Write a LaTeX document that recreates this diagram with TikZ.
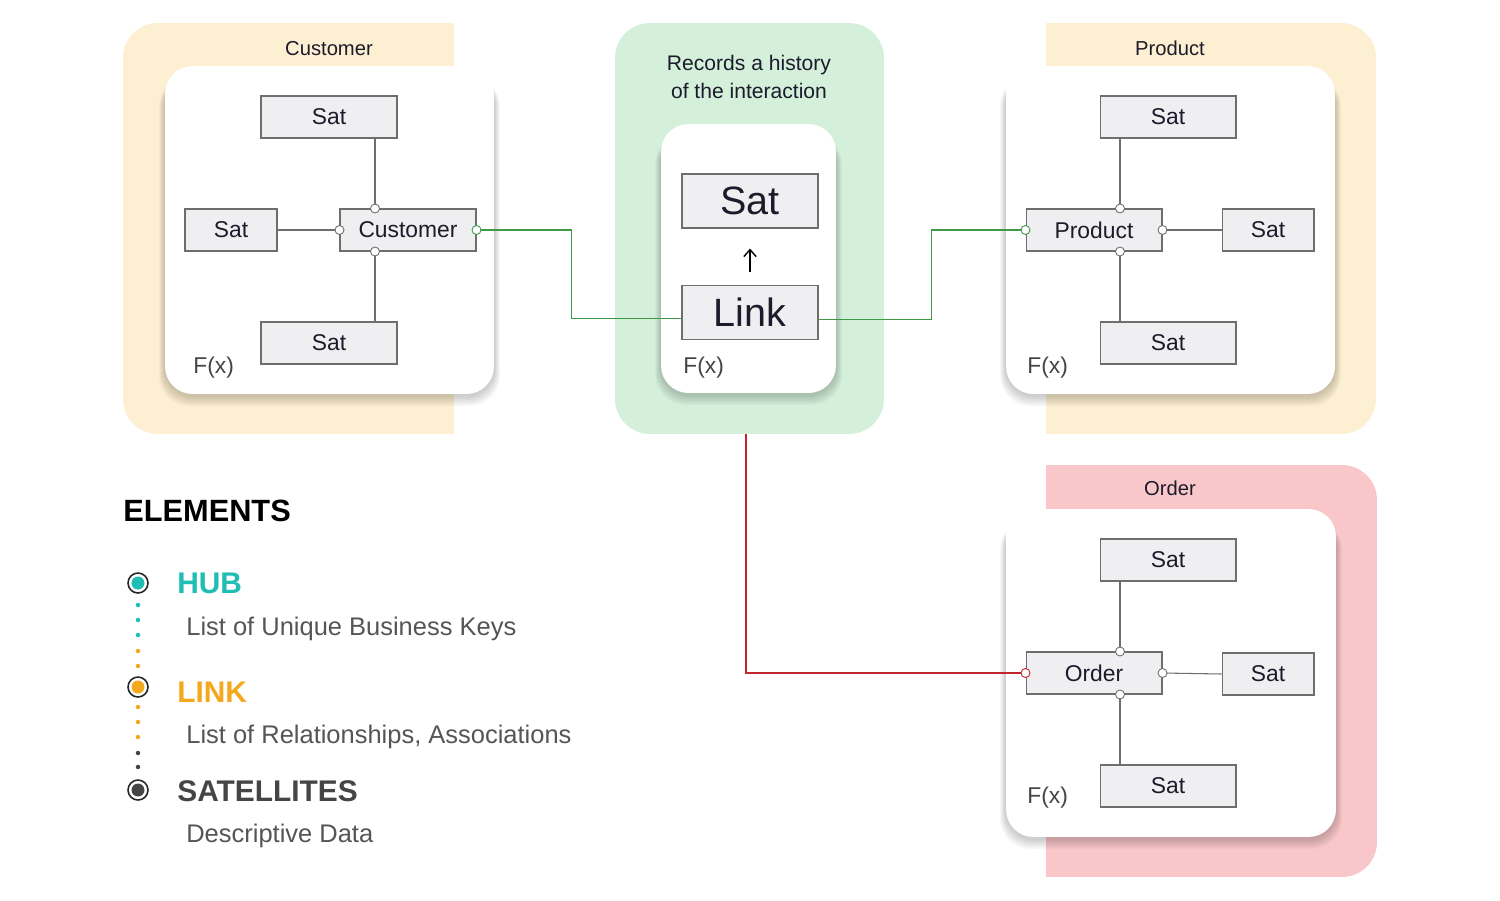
\documentclass[tikz,border=0pt]{standalone}
\usepackage{fontspec}
\setmainfont{Liberation Sans}
\usetikzlibrary{positioning,arrows.meta}
\definecolor{panelYellow}{HTML}{FDEFD1}
\definecolor{panelGreen}{HTML}{D4F0DB}
\definecolor{panelPink}{HTML}{F9C7CA}
\definecolor{boxFill}{HTML}{EFEFF1}
\definecolor{boxLine}{HTML}{6E6E6E}
\definecolor{wireGreen}{HTML}{3E9A45}
\definecolor{wireRed}{HTML}{C0262D}
\definecolor{hubTeal}{HTML}{1FBDB3}
\definecolor{linkOrange}{HTML}{F4A81E}
\definecolor{satGray}{HTML}{454545}
\definecolor{textGray}{HTML}{555555}
\definecolor{inkDark}{HTML}{1C1B2B}
\pgfdeclarelayer{back}
\pgfdeclarelayer{shade}
\pgfsetlayers{back,shade,main}

\tikzset{
  panel/.style={rounded corners=0.7cm, inner sep=0pt, minimum height=8.22cm},
  card/.style={fill=white, rounded corners=0.55cm, inner sep=0pt},
  title/.style={font=\fontsize{11.5}{14}\selectfont, text=inkDark, anchor=base, inner sep=0pt},
  satbox/.style={draw=boxLine, fill=boxFill, line width=0.6pt, inner sep=0pt,
    minimum width=2.72cm, minimum height=0.84cm, font=\fontsize{13}{15}\selectfont, text=inkDark},
  sidesat/.style={satbox, minimum width=1.84cm},
  bigbox/.style={satbox, minimum height=1.08cm, font=\fontsize{22.5}{26}\selectfont},
  fx/.style={font=\fontsize{13}{15}\selectfont, text=satGray, anchor=base west, inner sep=0pt},
  wire/.style={draw=boxLine, line width=0.6pt},
  port/.style={fill=white, draw=boxLine, line width=0.5pt},
  kind/.style={anchor=base west, inner sep=0pt, font=\bfseries\fontsize{17}{20}\selectfont},
  note/.style={anchor=base west, inner sep=0pt, font=\fontsize{14.5}{17}\selectfont, text=textGray}
}

\begin{document}
\begin{tikzpicture}[x=0.02cm, y=-0.02cm]
  \useasboundingbox (0,0) rectangle (1500,900);

  % panels
  \begin{pgfonlayer}{back}
    \fill[white] (0,0) rectangle (1500,900);
    \node (custpanel) [panel, fill=panelYellow, minimum width=6.62cm] at (288.5,228.5) {};
    \fill[panelYellow] (300,23) rectangle (454,434);
    \node (prodpanel) [panel, fill=panelYellow, minimum width=6.6cm] at (1211,228.5) {};
    \fill[panelYellow] (1046,23) rectangle (1200,434);
    \node (ordpanel) [panel, fill=panelPink, minimum width=6.62cm, minimum height=8.24cm] at (1211.5,671) {};
    \fill[panelPink] (1046,465) rectangle (1200,877);
    \node (linkpanel) [panel, fill=panelGreen, minimum width=5.38cm] at (749.5,228.5) {};
  \end{pgfonlayer}

  % cards
  \node (custcard) [card, minimum width=6.58cm, minimum height=6.56cm] at (329.5,230) {};
  \node (linkcard) [card, minimum width=3.5cm, minimum height=5.38cm] at (748.5,258.5) {};
  \node (prodcard) [card, minimum width=6.58cm, minimum height=6.56cm] at (1170.5,230) {};
  \node (ordcard) [card, minimum width=6.6cm, minimum height=6.56cm] at (1171,673) {};

  % soft shadows under the cards
  \begin{pgfonlayer}{shade}
    \foreach \c in {custcard, linkcard, prodcard, ordcard}
      \foreach \i in {1,...,7}
        \fill[black, opacity=0.028, rounded corners=0.6cm]
          ([xshift=-\i*0.45pt, yshift=-1pt-\i*0.8pt]\c.south west)
          rectangle ([xshift=\i*0.45pt, yshift=-6pt]\c.north east);
  \end{pgfonlayer}

  % titles
  \node (custtitle) [title] at (329,55) {Customer};
  \node (prodtitle) [title] at (1170,55) {Product};
  \node (ordtitle) [title] at (1170,495) {Order};
  \node (linktitle) [font=\fontsize{12}{16}\selectfont, text=inkDark, align=center] at (749,77)
    {Records a history\\of the interaction};

  % customer hub
  \node (cust) [satbox] at (408,230) {Customer};
  \node (custsatT) [satbox] at (329,117) {Sat};
  \node (custsatL) [sidesat] at (231,230) {Sat};
  \node (custsatB) [satbox] at (329,343) {Sat};

  % product hub
  \node (prod) [satbox] at (1094,230) {Product};
  \node (prodsatT) [satbox] at (1168,117) {Sat};
  \node (prodsatR) [sidesat] at (1268,230) {Sat};
  \node (prodsatB) [satbox] at (1168,343) {Sat};

  % order hub
  \node (ord) [satbox] at (1094,673) {Order};
  \node (ordsatT) [satbox] at (1168,560) {Sat};
  \node (ordsatR) [sidesat] at (1268,674) {Sat};
  \node (ordsatB) [satbox] at (1168,786) {Sat};

  % link
  \node (linksat) [bigbox] at (750,201) {Sat};
  \node (link) [bigbox, below=1.12cm of linksat] {Link};
  \draw[line width=0.8pt, -{Straight Barb[length=4pt,width=7pt]}, shorten <=0.26cm, shorten >=0.4cm]
    (link.north) -- (linksat.south);

  % F(x)
  \node (custfx) [fx] at (193,373) {F(x)};
  \node (linkfx) [fx] at (683,373) {F(x)};
  \node (prodfx) [fx] at (1027,373) {F(x)};
  \node (ordfx) [fx] at (1027,803) {F(x)};

  % satellite wires
  \coordinate (custaxis) at (375,0);
  \coordinate (prodaxis) at (1120,0);
  \coordinate (ordaxis) at (1120,0);
  \draw[wire] (custaxis |- custsatT.south) -- (custaxis |- cust.north);
  \draw[wire] (custaxis |- cust.south) -- (custaxis |- custsatB.north);
  \draw[wire] (custsatL) -- (cust);
  \draw[wire] (prodaxis |- prodsatT.south) -- (prodaxis |- prod.north);
  \draw[wire] (prodaxis |- prod.south) -- (prodaxis |- prodsatB.north);
  \draw[wire] (prod) -- (prodsatR);
  \draw[wire] (ordaxis |- ordsatT.south) -- (ordaxis |- ord.north);
  \draw[wire] (ordaxis |- ord.south) -- (ordaxis |- ordsatB.north);
  \draw[wire] (ord.east) -- (ordsatR.west);

  % hub-link wires
  \draw[wire, draw=wireGreen] (cust.east) -- ++(95,0) |- ([yshift=-0.12cm]link.west);
  \draw[wire, draw=wireGreen] ([yshift=-0.14cm]link.east) -- ++(113,0) |- (prod.west);
  \draw[wire, draw=wireRed] ([xshift=-0.07cm]linkpanel.south) |- (ord.west);

  % ports
  \foreach \hub/\ax in {cust/custaxis, prod/prodaxis, ord/ordaxis} {
    \draw[port] (\ax |- \hub.north) circle (0.09cm);
    \draw[port] (\ax |- \hub.south) circle (0.09cm);
  }
  \draw[port] (cust.west) circle (0.09cm);
  \draw[port, draw=wireGreen] (cust.east) circle (0.09cm);
  \draw[port, draw=wireGreen] (prod.west) circle (0.09cm);
  \draw[port] (prod.east) circle (0.09cm);
  \draw[port, draw=wireRed] (ord.west) circle (0.09cm);
  \draw[port] (ord.east) circle (0.09cm);

  % legend
  \node (elements) [anchor=base west, inner sep=0pt, font=\bfseries\fontsize{17.5}{20}\selectfont] at (123,521) {ELEMENTS};
  \node (hub) [kind, text=hubTeal] at (177,593) {HUB};
  \node (hubnote) [note] at (186,635) {List of Unique Business Keys};
  \node (lnk) [kind, text=linkOrange] at (177,702) {LINK};
  \node (lnknote) [note] at (186,743) {List of Relationships, Associations};
  \node (sats) [kind, text=satGray] at (177,801) {SATELLITES};
  \node (satsnote) [note] at (186,842) {Descriptive Data};

  \foreach \y/\c in {583/hubTeal, 687/linkOrange, 790/satGray} {
    \draw[line width=0.9pt, draw=black!85, fill=white] (138,\y) circle (0.2cm);
    \fill[\c] (138,\y) circle (0.13cm);
  }
  \foreach \y/\c in {605/hubTeal, 620/hubTeal, 635/hubTeal, 651/linkOrange, 666/linkOrange,
                     707/linkOrange, 722/linkOrange, 737/linkOrange, 753/satGray, 767/satGray}
    \fill[\c] (138,\y) circle (0.045cm);
\end{tikzpicture}
\end{document}
